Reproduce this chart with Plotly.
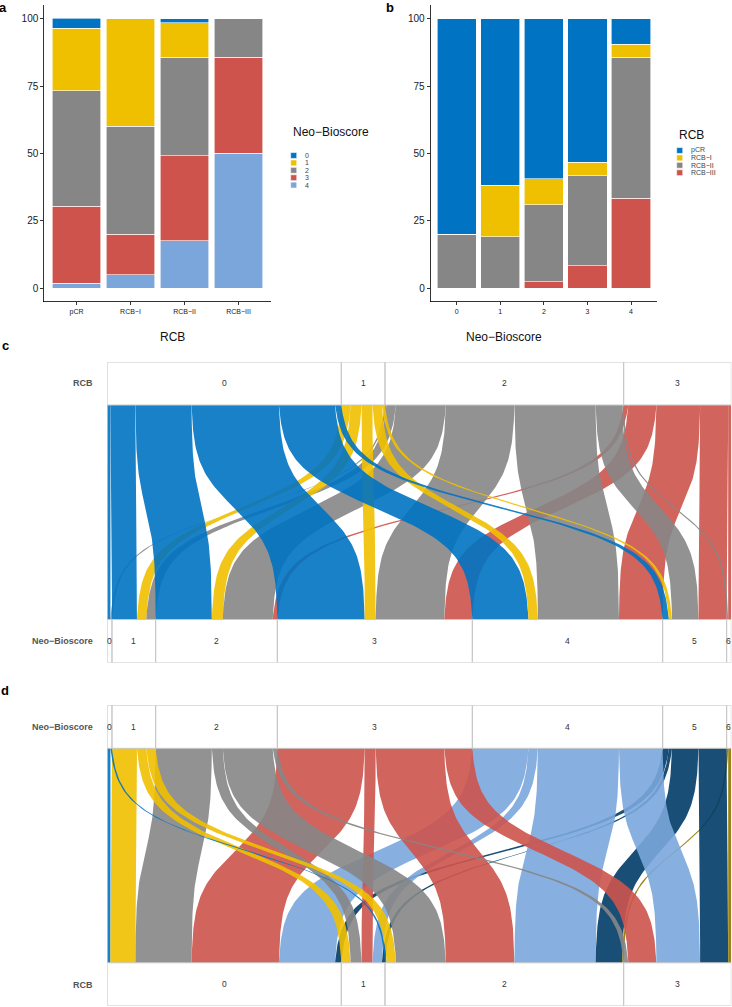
import numpy as np
import plotly.graph_objects as go

# ---------------- data ----------------
RCB_CLASSES = ["pCR", "RCB\u2212I", "RCB\u2212II", "RCB\u2212III"]
NB_AB = ["0", "1", "2", "3", "4"]

# Panel a: % of each Neo-Bioscore within each RCB class
a_nb0 = [3.6, 0.0, 1.6, 0.0]
a_nb1 = [23.2, 40.0, 12.7, 0.0]
a_nb2 = [42.9, 40.0, 36.5, 14.3]
a_nb3 = [28.6, 15.0, 31.7, 35.7]
a_nb4 = [1.8, 5.0, 17.5, 50.0]

# Panel b: % of each RCB class within each Neo-Bioscore
b_pcr = [80.0, 61.9, 59.5, 53.3, 9.5]
b_rcb1 = [0.0, 19.0, 9.5, 5.0, 4.8]
b_rcb2 = [20.0, 19.1, 28.6, 33.4, 52.4]
b_rcb3 = [0.0, 0.0, 2.4, 8.3, 33.3]

# Panels c/d: patient counts, RCB (rows 0-3) x Neo-Bioscore (cols 0-6)
RCB_CD = ["0", "1", "2", "3"]
NB_CD = ["0", "1", "2", "3", "4", "5", "6"]
n_rcb0 = [2, 16, 36, 56, 36, 4, 0]
n_rcb1 = [0, 6, 7, 7, 6, 2, 0]
n_rcb2 = [1, 6, 32, 44, 52, 17, 1]
n_rcb3 = [0, 0, 3, 18, 28, 18, 2]

JCO = ["#0073C2", "#EFC000", "#868686", "#CD534C", "#7AA6DC", "#003C67", "#8F7700"]

# ---------------- geometry helpers ----------------
W, H = 732, 1007
FONT = "Liberation Sans, Arial, Helvetica, sans-serif"


def px(x):
    return x / W


def py(y):
    return 1 - y / H


def rgba(hexc, a):
    hexc = hexc.lstrip("#")
    r, g, b = int(hexc[0:2], 16), int(hexc[2:4], 16), int(hexc[4:6], 16)
    return f"rgba({r},{g},{b},{a})"


fig = go.Figure()
annotations = []
shapes = []

# ---------------- panel a ----------------
a_series = [a_nb0, a_nb1, a_nb2, a_nb3, a_nb4]
for i in reversed(range(len(NB_AB))):
    fig.add_trace(go.Bar(x=RCB_CLASSES, y=a_series[i], marker=dict(color=JCO[i], line=dict(color="white", width=0.6)),
                         width=0.9, xaxis="x", yaxis="y", showlegend=False, hoverinfo="skip"))

# ---------------- panel b ----------------
b_series = [b_pcr, b_rcb1, b_rcb2, b_rcb3]
for i in reversed(range(len(RCB_CLASSES))):
    fig.add_trace(go.Bar(x=NB_AB, y=b_series[i], marker=dict(color=JCO[i], line=dict(color="white", width=0.6)),
                         width=0.9, xaxis="x2", yaxis="y2", showlegend=False, hoverinfo="skip"))

# ---------------- panels c / d (parallel sets) ----------------
counts = np.array([n_rcb0, n_rcb1, n_rcb2, n_rcb3])
RIB_H = 214.5
BOX_H = 43.0
N = counts.sum()
X_LEFT, X_RIGHT = 107.3, 731.3
UNIT = (X_RIGHT - X_LEFT) / N


def sig(t, k=10.0, c=0.48):
    f = lambda u: 1.0 / (1.0 + np.exp(-k * (u - c)))
    return (f(t) - f(0.0)) / (f(1.0) - f(0.0))


def parset(M, top_labels, bot_labels, colors, xa, ya):
    M = np.asarray(M)
    nt, nb = M.shape
    top_tot = M.sum(axis=1)
    bot_tot = M.sum(axis=0)
    top_start = np.concatenate([[0], np.cumsum(top_tot)[:-1]])
    bot_start = np.concatenate([[0], np.cumsum(bot_tot)[:-1]])
    t = np.linspace(0, 1, 90)
    s = sig(t)
    yy = RIB_H * (1 - t)
    for b in range(nb):
        for a in range(nt):
            n = M[a, b]
            if n == 0:
                continue
            xt = top_start[a] + M[a, :b].sum()
            xb = bot_start[b] + M[:a, b].sum()
            xl = xt + (xb - xt) * s
            xr = xl + n
            fig.add_trace(go.Scatter(
                x=np.concatenate([xl, xr[::-1]]), y=np.concatenate([yy, yy[::-1]]),
                mode="lines", fill="toself", fillcolor=rgba(colors[a], 0.9),
                line=dict(width=0), xaxis=xa, yaxis=ya, showlegend=False, hoverinfo="skip"))
    for lab, st, tot, y0, y1 in ([(top_labels[i], top_start[i], top_tot[i], RIB_H, RIB_H + BOX_H) for i in range(nt)] +
                                 [(bot_labels[i], bot_start[i], bot_tot[i], -BOX_H, 0) for i in range(nb)]):
        shapes.append(dict(type="rect", xref=xa, yref=ya, x0=st, x1=st + tot, y0=y0, y1=y1,
                           line=dict(color="#c8c8c8", width=1), fillcolor="rgba(0,0,0,0)", layer="above"))
        xc = min(st + tot / 2, N - 3.2 / UNIT)
        annotations.append(dict(xref=xa, yref=ya, x=xc, y=(y0 + y1) / 2, text=lab, showarrow=False,
                                font=dict(size=8.5, color="#333333", family=FONT)))


parset(counts, RCB_CD, NB_CD, JCO[:4], "x3", "y3")
parset(counts.T, NB_CD, RCB_CD, JCO, "x4", "y4")


# ---------------- legends (manual) ----------------
def legend(x0, ytitle, title, labels, colors, ykeys):
    annotations.append(dict(xref="paper", yref="paper", x=px(x0), y=py(ytitle), xanchor="left", yanchor="middle",
                            text=title, showarrow=False, font=dict(size=12, color="#111111", family=FONT)))
    for lab, col, yk in zip(labels, colors, ykeys):
        shapes.append(dict(type="rect", xref="paper", yref="paper", x0=px(x0), x1=px(x0 + 6), y0=py(yk + 2.9),
                           y1=py(yk - 2.9), fillcolor=col, line=dict(color="white", width=0.5)))
        annotations.append(dict(xref="paper", yref="paper", x=px(x0 + 12), y=py(yk), xanchor="left", yanchor="middle",
                                text=lab, showarrow=False, font=dict(size=7, color="#444444", family=FONT)))


legend(290.7, 131.7, "Neo\u2212Bioscore", NB_AB, JCO[:5], [155.5, 162.9, 170.3, 177.7, 185.1])
legend(676.7, 135.3, "RCB", RCB_CLASSES, JCO[:4], [150.5, 157.9, 165.3, 172.7])

# panel letters
for lab, x, y in [("a", 3, 8), ("b", 390, 8), ("c", 5, 346), ("d", 5, 690)]:
    annotations.append(dict(xref="paper", yref="paper", x=px(x), y=py(y), text=f"<b>{lab}</b>", showarrow=False,
                            xanchor="center", yanchor="middle", font=dict(size=13, color="black", family=FONT)))

# axis titles a / b
annotations.append(dict(xref="paper", yref="paper", x=px(157.5), y=py(328), text="RCB", showarrow=False,
                        font=dict(size=12, color="#111111", family=FONT)))
annotations.append(dict(xref="paper", yref="paper", x=px(543.8), y=py(328), text="Neo\u2212Bioscore", showarrow=False,
                        font=dict(size=12, color="#111111", family=FONT)))

# row labels c / d
for lab, y in [("RCB", 383.5), ("Neo\u2212Bioscore", 640.8), ("Neo\u2212Bioscore", 726.7), ("RCB", 984.7)]:
    annotations.append(dict(xref="paper", yref="paper", x=px(95), y=py(y), text=f"<b>{lab}</b>", showarrow=False,
                            xanchor="right", yanchor="middle", font=dict(size=9, color="#555555", family=FONT)))

yax_common = dict(range=[-5, 105], tickvals=[0, 25, 50, 75, 100], ticks="outside", ticklen=3, tickwidth=0.8,
                  tickcolor="black", showline=True, linecolor="black", linewidth=0.8, showgrid=False, zeroline=False,
                  tickfont=dict(size=10, color="#1a1a1a", family=FONT))
xax_common = dict(ticks="outside", ticklen=3, tickwidth=0.8, tickcolor="black", showline=True, linecolor="black",
                  linewidth=0.8, showgrid=False, zeroline=False, tickfont=dict(size=7, color="#1a1a1a", family=FONT))

C_TOP = 405.0
D_TOP = 748.3
fig.update_layout(
    width=W, height=H, margin=dict(l=0, r=0, t=0, b=0), paper_bgcolor="white", plot_bgcolor="rgba(0,0,0,0)",
    barmode="stack", bargap=0.1, showlegend=False, font=dict(family=FONT),
    xaxis=dict(domain=[px(44.1), px(270.9)], range=[-0.6, 3.6], anchor="y", **xax_common),
    yaxis=dict(domain=[py(301.5), py(5.2)], anchor="x", **yax_common),
    xaxis2=dict(domain=[px(430.5), px(657.2)], range=[-0.6, 4.6], anchor="y2", **xax_common),
    yaxis2=dict(domain=[py(301.5), py(5.2)], anchor="x2", **yax_common),
    xaxis3=dict(domain=[px(X_LEFT), px(X_RIGHT)], range=[0, N], visible=False, anchor="y3"),
    yaxis3=dict(domain=[py(C_TOP + RIB_H + BOX_H), py(C_TOP - BOX_H)], range=[-BOX_H, RIB_H + BOX_H],
                visible=False, anchor="x3"),
    xaxis4=dict(domain=[px(X_LEFT), px(X_RIGHT)], range=[0, N], visible=False, anchor="y4"),
    yaxis4=dict(domain=[py(D_TOP + RIB_H + BOX_H), py(D_TOP - BOX_H)], range=[-BOX_H, RIB_H + BOX_H],
                visible=False, anchor="x4"),
    annotations=annotations, shapes=shapes,
)

fig.write_html("out.html", config={"displayModeBar": False, "staticPlot": True},
               post_script="document.body.style.margin='0px';document.body.style.overflow='hidden';")
